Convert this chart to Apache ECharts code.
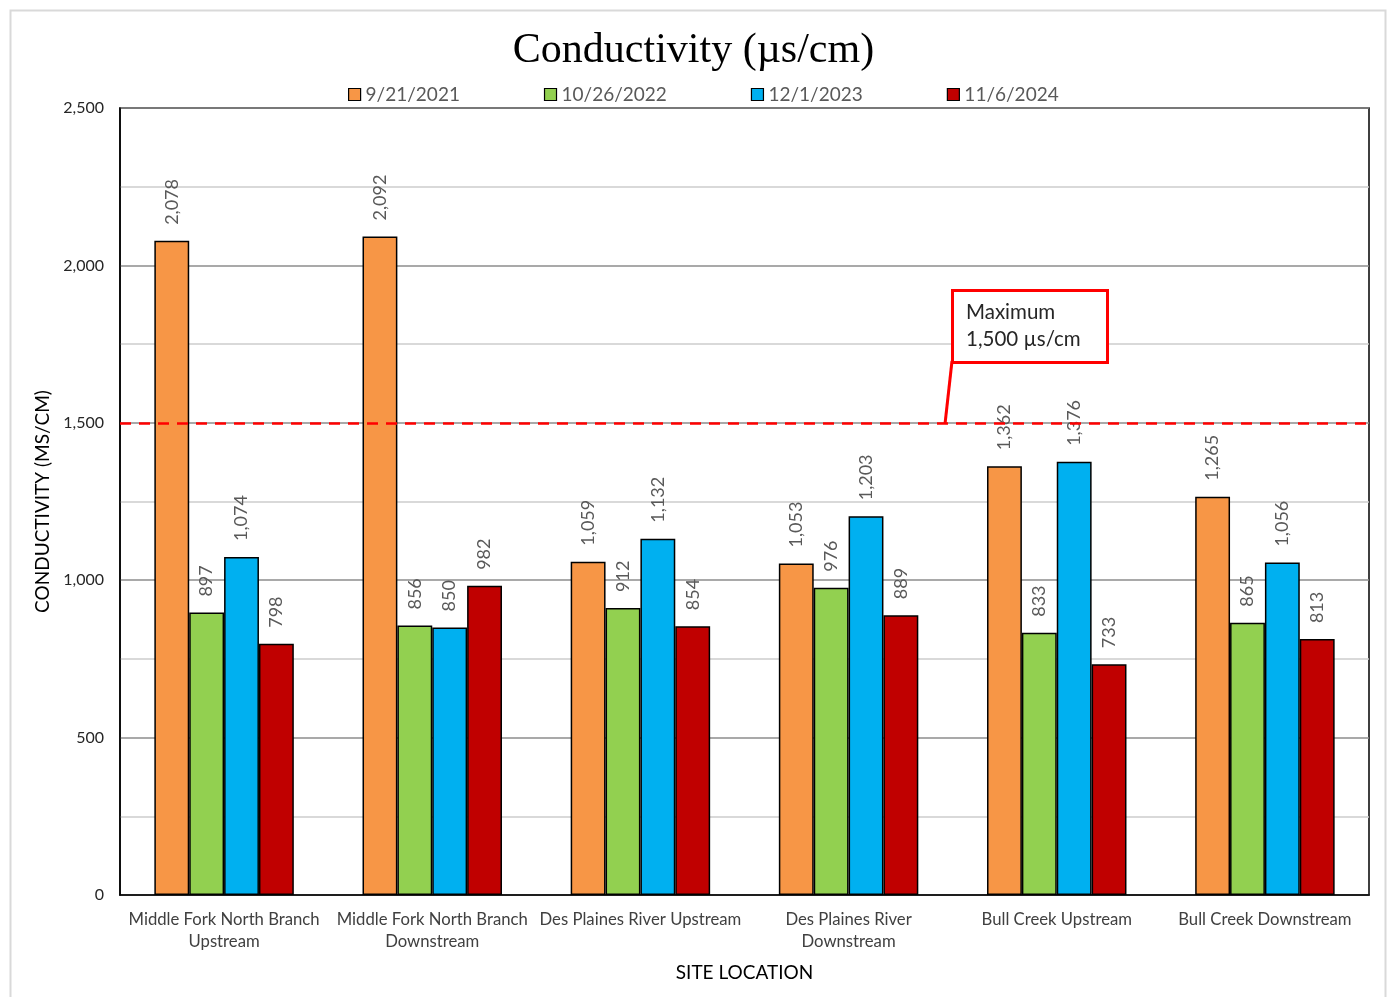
<!DOCTYPE html>
<html>
<head>
<meta charset="utf-8">
<title>Conductivity (µs/cm)</title>
<script src="https://cdn.jsdelivr.net/npm/echarts@6/dist/echarts.min.js"></script>
<style>
  html, body { margin: 0; padding: 0; background: #fff; }
  #chart { width: 1387px; height: 997px; }
</style>
</head>
<body>
<div id="chart"></div>
<script>
// Sampling sites along the x axis
const sites = [
  'Middle Fork North Branch\nUpstream',
  'Middle Fork North Branch\nDownstream',
  'Des Plaines River Upstream',
  'Des Plaines River\nDownstream',
  'Bull Creek Upstream',
  'Bull Creek Downstream'
];

// Sampling dates (one series per date)
const dates = ['9/21/2021', '10/26/2022', '12/1/2023', '11/6/2024'];

// Conductivity readings in µs/cm, one array per sampling date
const sep2021 = [2078, 2092, 1059, 1053, 1362, 1265];
const oct2022 = [897, 856, 912, 976, 833, 865];
const dec2023 = [1074, 850, 1132, 1203, 1376, 1056];
const nov2024 = [798, 982, 854, 889, 733, 813];

// Regulatory maximum
const maxLimit = 1500;

const seriesColors = ['#F79646', '#92D050', '#00B0F0', '#C00000'];
const seriesValues = [sep2021, oct2022, dec2023, nov2024];

const FONT = 'Lato, "Open Sans", sans-serif';
const fmt = v => Number(v).toLocaleString('en-US');

const chart = echarts.init(document.getElementById('chart'));

const series = dates.map((d, i) => ({
  name: d,
  type: 'bar',
  data: seriesValues[i],
  barGap: '0%',
  barCategoryGap: '33%',
  itemStyle: { color: seriesColors[i], borderColor: '#000', borderWidth: 1.5 },
  label: {
    show: true,
    position: 'top',
    distance: 16,
    rotate: 90,
    align: 'left',
    verticalAlign: 'middle',
    color: '#595959',
    fontSize: 18,
    fontFamily: FONT,
    formatter: p => fmt(p.value)
  },
  z: 2
}));

// Dashed limit line on the first series
series[0].markLine = {
  silent: true,
  symbol: 'none',
  label: { show: false },
  lineStyle: { color: '#FF0000', type: [11, 8], width: 2.5 },
  data: [{ yAxis: maxLimit }],
  z: 5
};

chart.setOption({
  animation: false,
  backgroundColor: '#fff',
  title: {
    text: 'Conductivity (µs/cm)',
    left: 'center',
    top: 25,
    textStyle: { fontFamily: '"Liberation Serif", serif', fontSize: 42, fontWeight: 'normal', color: '#000' }
  },
  legend: {
    data: dates,
    left: 343,
    top: 80,
    itemWidth: 12,
    itemHeight: 12,
    itemGap: 84,
    icon: 'rect',
    itemStyle: { borderColor: '#000', borderWidth: 1.2 },
    textStyle: { fontFamily: FONT, fontSize: 19, color: '#595959' }
  },
  grid: {
    left: 120, right: 18, top: 108, bottom: 102,
    show: true, borderColor: '#000', borderWidth: 1.5,
    containLabel: false
  },
  xAxis: {
    type: 'category',
    data: sites,
    name: 'SITE LOCATION',
    nameLocation: 'middle',
    nameGap: 68,
    nameTextStyle: { fontFamily: FONT, fontSize: 19, color: '#000' },
    axisLine: { show: true, lineStyle: { color: '#000', width: 1.5 } },
    axisTick: { show: false },
    axisLabel: { interval: 0, margin: 14, fontFamily: FONT, fontSize: 16.7, color: '#404040', lineHeight: 22 }
  },
  yAxis: {
    type: 'value',
    min: 0,
    max: 2500,
    interval: 250,
    name: 'CONDUCTIVITY (MS/CM)',
    nameLocation: 'middle',
    nameGap: 68,
    nameRotate: 90,
    nameTextStyle: { fontFamily: FONT, fontSize: 19, color: '#000' },
    axisLine: { show: true, lineStyle: { color: '#000', width: 1.5 } },
    axisTick: { show: false },
    axisLabel: {
      margin: 16,
      fontFamily: FONT, fontSize: 16, color: '#262626',
      formatter: v => (v % 500 === 0 ? fmt(v) : '')
    },
    splitLine: { show: true, lineStyle: { color: ['#8c8c8c', '#cccccc'], width: 1.5 } }
  },
  series: series,
  graphic: [
    // light outer frame
    {
      type: 'rect', left: 8, top: 8, silent: true,
      shape: { width: 1375, height: 1000 },
      style: { fill: 'none', stroke: '#d9d9d9', lineWidth: 2 }
    },
    // callout leader
    {
      type: 'line', silent: true, z: 10,
      shape: { x1: 952, y1: 361, x2: 945, y2: 424 },
      style: { stroke: '#FF0000', lineWidth: 3 }
    },
    // callout box
    {
      type: 'rect', left: 951, top: 289, silent: true, z: 10,
      shape: { width: 155, height: 72 },
      style: { fill: '#fff', stroke: '#FF0000', lineWidth: 3 }
    },
    {
      type: 'text', left: 966, top: 299, silent: true, z: 11,
      style: {
        text: 'Maximum\n' + fmt(maxLimit) + ' µs/cm',
        fontFamily: FONT, fontSize: 20.5, lineHeight: 27, fill: '#262626'
      }
    }
  ]
});
</script>
</body>
</html>
